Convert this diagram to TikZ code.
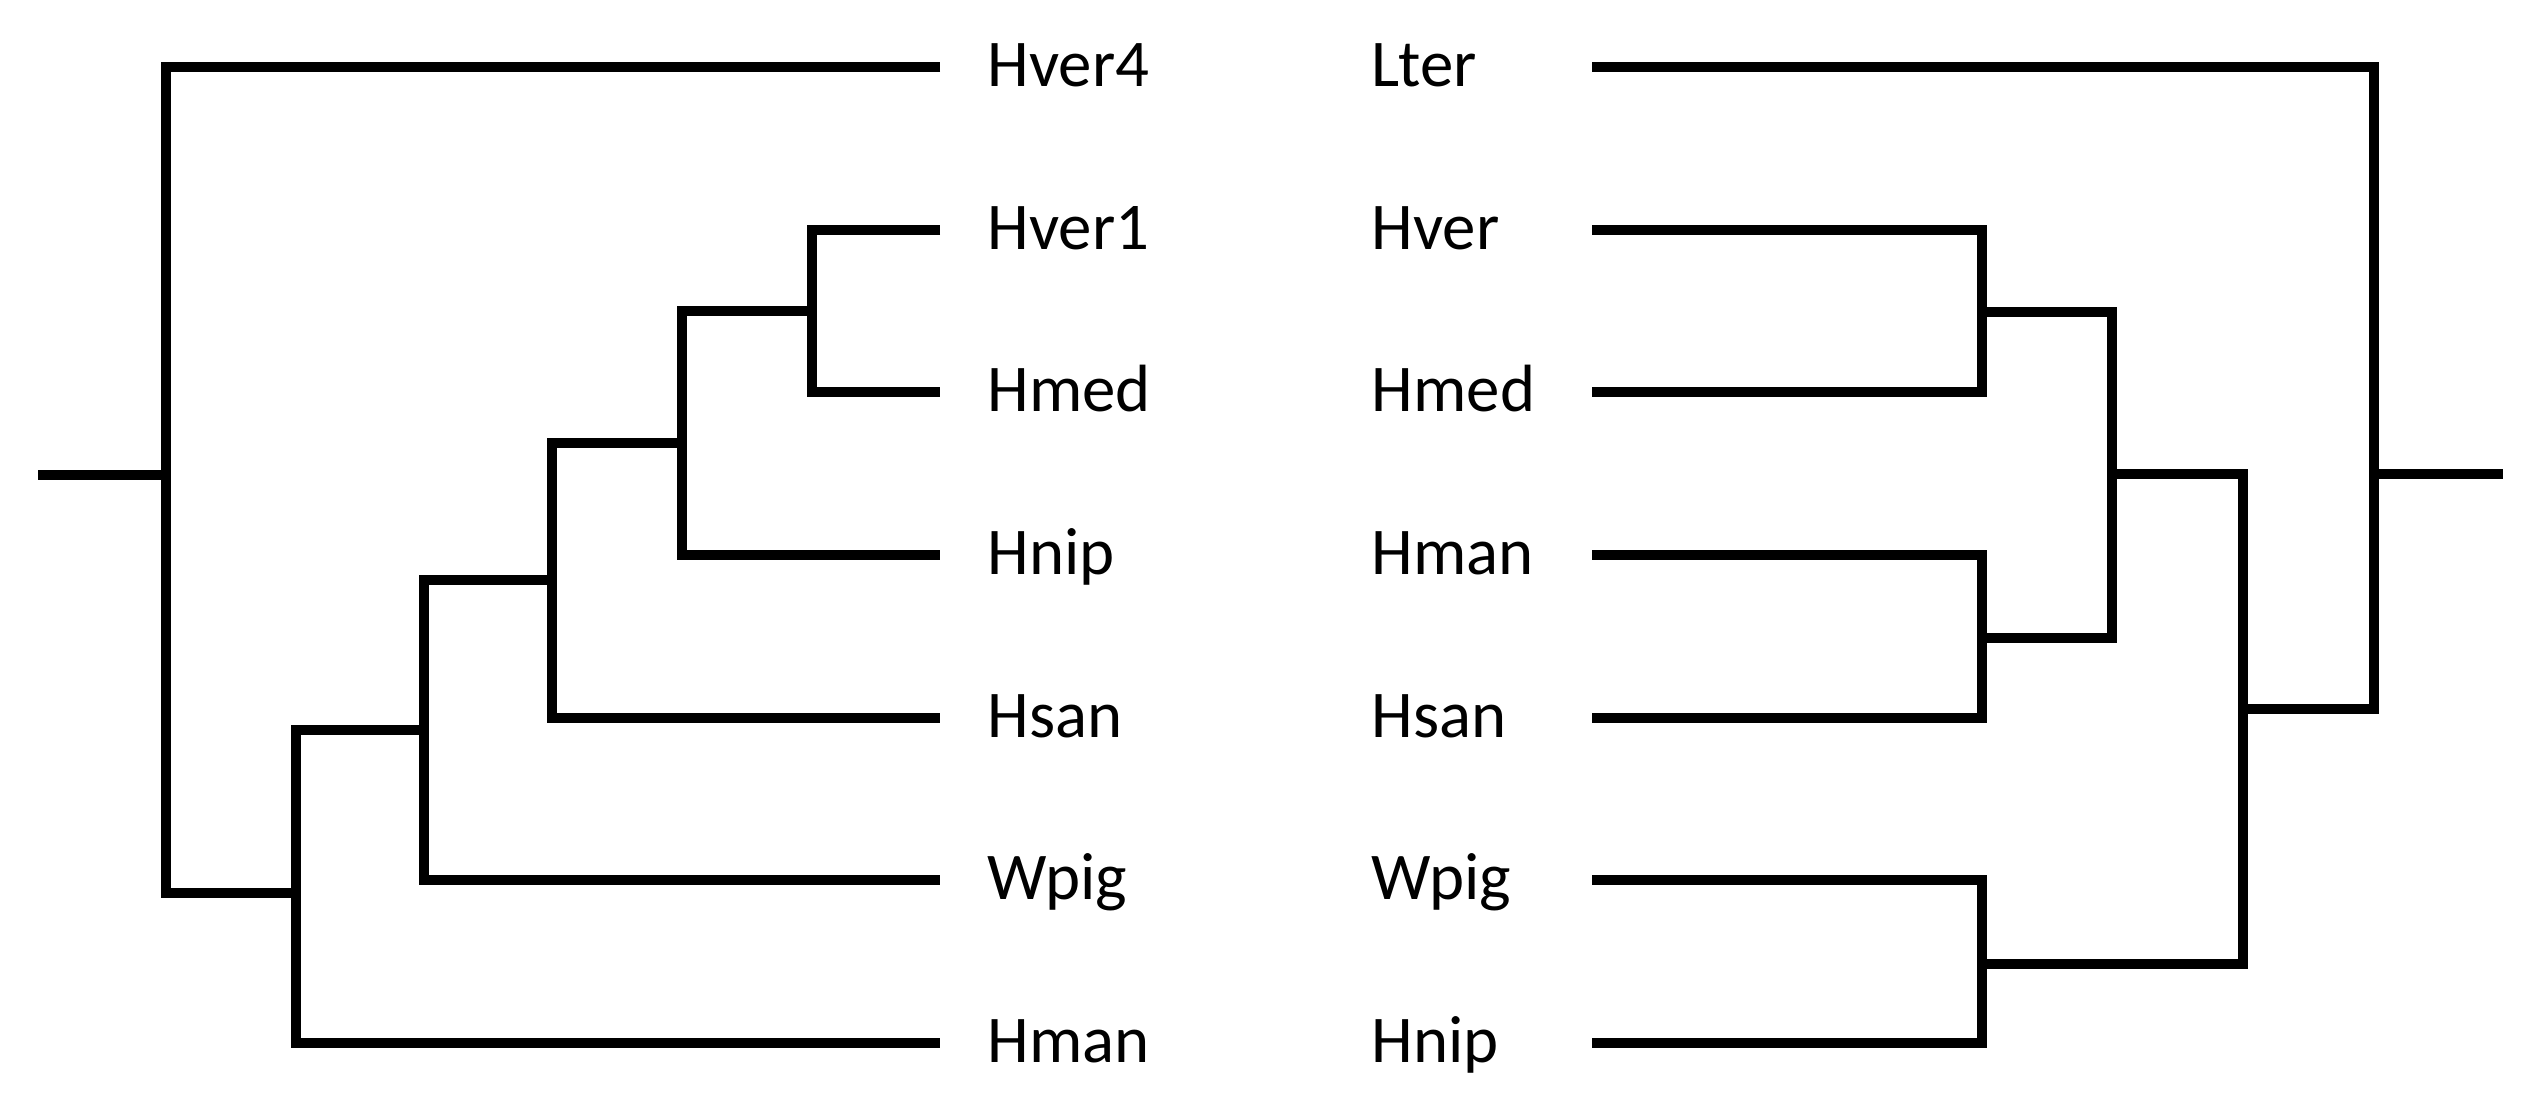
\documentclass[tikz,border=0pt]{standalone}
\usepackage{fontspec}
\setmainfont{Carlito}
\tikzset{
	branch/.style={draw=black, line width=2.6pt, line join=miter},
	taxon/.style={anchor=base west, inner sep=0pt, font=\fontsize{19}{22}\selectfont}
}

\begin{document}
\begin{tikzpicture}[x=0.01cm, y=-0.01cm]

\useasboundingbox (0, 0) rectangle (2523, 1113);

% left tree
\node[taxon] (lhver4) at (987, 87)   {Hver4};
\node[taxon] (lhver1) at (987, 250)  {Hver1};
\node[taxon] (lhmed)  at (987, 412)  {Hmed};
\node[taxon] (lhnip)  at (987, 575)  {Hnip};
\node[taxon] (lhsan)  at (987, 738)  {Hsan};
\node[taxon] (lwpig)  at (987, 900)  {Wpig};
\node[taxon] (lhman)  at (987, 1063) {Hman};

\coordinate (lt1) at (940, 67);
\coordinate (lt2) at (940, 230);
\coordinate (lt3) at (940, 392);
\coordinate (lt4) at (940, 555);
\coordinate (lt5) at (940, 718);
\coordinate (lt6) at (940, 880);
\coordinate (lt7) at (940, 1043);

\coordinate (la1) at (812, 311);
\coordinate (la2) at (682, 443);
\coordinate (la3) at (552, 580);
\coordinate (la4) at (424, 730);
\coordinate (la5) at (296, 893);
\coordinate (la6) at (166, 475);
\coordinate (la0) at (38, 475);

\draw[branch] (lt2) -| (la1) |- (lt3);
\draw[branch] (la1) -| (la2) |- (lt4);
\draw[branch] (la2) -| (la3) |- (lt5);
\draw[branch] (la3) -| (la4) |- (lt6);
\draw[branch] (la4) -| (la5) |- (lt7);
\draw[branch] (lt1) -| (la6) |- (la5);
\draw[branch] (la0) -- (la6);

% right tree
\node[taxon] (rlter)  at (1371, 87)   {Lter};
\node[taxon] (rhver)  at (1371, 250)  {Hver};
\node[taxon] (rhmed)  at (1371, 412)  {Hmed};
\node[taxon] (rhman)  at (1371, 575)  {Hman};
\node[taxon] (rhsan)  at (1371, 738)  {Hsan};
\node[taxon] (rwpig)  at (1371, 900)  {Wpig};
\node[taxon] (rhnip)  at (1371, 1063) {Hnip};

\coordinate (rt1) at (1592, 67);
\coordinate (rt2) at (1592, 230);
\coordinate (rt3) at (1592, 392);
\coordinate (rt4) at (1592, 555);
\coordinate (rt5) at (1592, 718);
\coordinate (rt6) at (1592, 880);
\coordinate (rt7) at (1592, 1043);

\coordinate (rb1) at (1982, 312);
\coordinate (rb2) at (1982, 638);
\coordinate (rb3) at (2112, 474);
\coordinate (rb4) at (1982, 964);
\coordinate (rb5) at (2243, 709);
\coordinate (rb6) at (2374, 474);
\coordinate (rb0) at (2503, 474);

\draw[branch] (rt2) -| (rb1) |- (rt3);
\draw[branch] (rt4) -| (rb2) |- (rt5);
\draw[branch] (rb1) -| (rb3) |- (rb2);
\draw[branch] (rt6) -| (rb4) |- (rt7);
\draw[branch] (rb3) -| (rb5) |- (rb4);
\draw[branch] (rt1) -| (rb6) |- (rb5);
\draw[branch] (rb6) -- (rb0);

\end{tikzpicture}
\end{document}
